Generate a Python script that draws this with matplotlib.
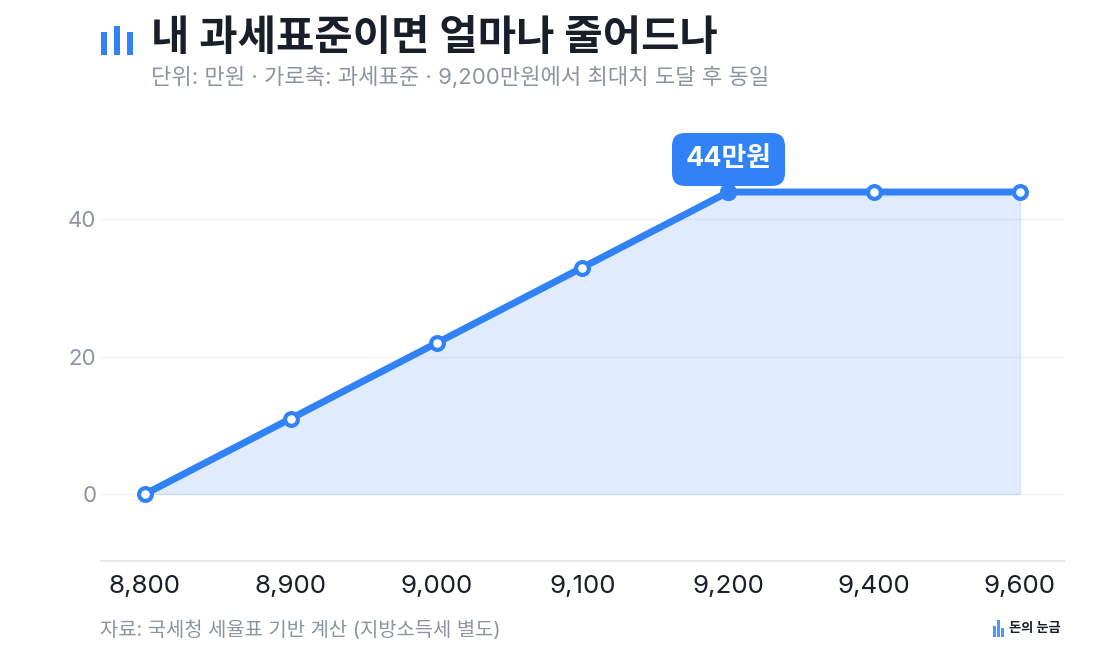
import matplotlib
matplotlib.use("Agg")
import matplotlib.pyplot as plt
from matplotlib.patches import Rectangle, FancyBboxPatch

plt.rcParams['font.family'] = ['Inter', 'Noto Sans CJK KR', 'DejaVu Sans']

# 데이터
income_labels = ["8,800", "8,900", "9,000", "9,100", "9,200", "9,400", "9,600"]
saving = [0, 11, 22, 33, 44, 44, 44]
y_ticks = [0, 20, 40]
peak_index = 4
peak_label = "44만원"

title = "내 과세표준이면 얼마나 줄어드나"
subtitle = "단위: 만원 · 가로축: 과세표준 · 9,200만원에서 최대치 도달 후 동일"
source = "자료: 국세청 세율표 기반 계산 (지방소득세 별도)"
brand = "돈의 눈금"

BLUE = "#3182F6"
DARK = "#191F28"
GREY = "#8B95A1"

W, H = 1120, 660
fig = plt.figure(figsize=(W / 100, H / 100), dpi=100, facecolor="white")


def px_box(x0, y0, x1, y1):
    # 픽셀 좌표(위에서 아래로) -> figure 좌표
    return [x0 / W, 1 - y1 / H, (x1 - x0) / W, (y1 - y0) / H]


def px_rect(x0, y0, x1, y1, color):
    l, b, w, h = px_box(x0, y0, x1, y1)
    fig.add_artist(Rectangle((l, b), w, h, transform=fig.transFigure, color=color, lw=0))


ax = fig.add_axes(px_box(100.5, 110, 1064, 561))
x = list(range(len(saving)))

ax.fill_between(x, saving, 0, facecolor=BLUE, alpha=0.15, edgecolor=BLUE, linewidth=1, zorder=1)
ax.plot(x, saving, color=BLUE, lw=5, solid_capstyle="round", zorder=3)
others = [i for i in x if i != peak_index]
ax.plot(others, [saving[i] for i in others], ls="none", marker="o", ms=9.2,
        mfc="white", mec=BLUE, mew=3, zorder=4)
ax.plot([peak_index], [saving[peak_index]], ls="none", marker="o", ms=12,
        mfc=BLUE, mec=BLUE, mew=0.5, zorder=4)

ax.set_xlim(-0.305, 6.302)
ax.set_ylim(-9.75, 55.95)
ax.set_yticks(y_ticks)
ax.set_yticklabels([str(v) for v in y_ticks])
ax.set_xticks(x)
ax.set_xticklabels(income_labels)
ax.tick_params(axis="both", length=0)
ax.tick_params(axis="x", labelsize=18.7, labelcolor=DARK, pad=10)
ax.tick_params(axis="y", labelsize=16, labelcolor=GREY, pad=3)
ax.grid(axis="y", color="#F2F4F6", lw=1)
ax.set_axisbelow(True)
for side in ["top", "left", "right"]:
    ax.spines[side].set_visible(False)
ax.spines["bottom"].set_color("#E5E8EB")
ax.spines["bottom"].set_linewidth(1.5)

# 최대치 말풍선
ax.annotate(peak_label, (peak_index, saving[peak_index]), xytext=(0, 33), textcoords="offset pixels",
            ha="center", va="center", fontsize=19.4, fontweight="bold", color="white", zorder=6)
fig.add_artist(FancyBboxPatch((672, H - 186), 113, 53, boxstyle="round,pad=0,rounding_size=13",
                              transform=None, facecolor=BLUE, edgecolor="none", zorder=2))
ax.set_zorder(3)
ax.patch.set_alpha(0)

# 제목 영역
px_rect(101, 32, 107, 55, BLUE)
px_rect(114, 26, 120, 55, BLUE)
px_rect(127, 32, 133, 55, BLUE)
fig.text(151 / W, 1 - 38 / H, title, fontsize=30, fontweight="bold", color=DARK, va="center", ha="left")
fig.text(151 / W, 1 - 77 / H, subtitle, fontsize=15.92, color=GREY, va="center", ha="left")

# 출처, 로고
fig.text(100 / W, 1 - 630 / H, source, fontsize=14.3, color=GREY, va="center", ha="left")
px_rect(993, 626, 995.6, 637, "#4A9BFF")
px_rect(997, 620, 999.6, 637, "#4A9BFF")
px_rect(1001, 628, 1003.6, 637, "#4A9BFF")
fig.text(1009 / W, 1 - 629 / H, brand, fontsize=9.5, fontweight="bold", color=DARK, va="center", ha="left")

fig.savefig("out.png", dpi=100, facecolor="white")
